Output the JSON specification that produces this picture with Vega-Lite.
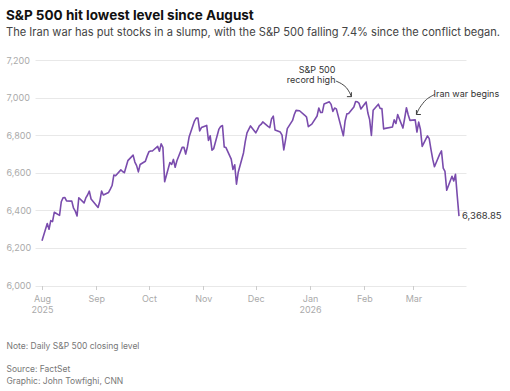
{
  "$schema": "https://vega.github.io/schema/vega-lite/v6.json",
  "autosize": {"type": "none"},
  "padding": {"left": 35, "top": 60, "right": 44, "bottom": 105},
  "width": 431,
  "height": 225.5,
  "config": {"view": {"stroke": null}, "font": "Inter"},
  "title": {
    "text": "S&P 500 hit lowest level since August",
    "subtitle": "The Iran war has put stocks in a slump, with the S&P 500 falling 7.4% since the conflict began.",
    "anchor": "start",
    "frame": "bounds",
    "font": "Inter",
    "fontSize": 13.5,
    "fontWeight": "bold",
    "color": "#111111",
    "subtitleFont": "Inter",
    "subtitleFontSize": 11.1,
    "subtitleColor": "#444444",
    "subtitlePadding": 4,
    "offset": 18
  },
  "datasets": {
    "sp": [
      {"d":"2025-08-01","v":6238.01},{"d":"2025-08-04","v":6329.94},{"d":"2025-08-05","v":6299.19},{"d":"2025-08-06","v":6345.06},{"d":"2025-08-07","v":6340.00},
      {"d":"2025-08-08","v":6389.45},{"d":"2025-08-11","v":6373.45},{"d":"2025-08-12","v":6445.76},{"d":"2025-08-13","v":6466.58},{"d":"2025-08-14","v":6468.54},
      {"d":"2025-08-15","v":6449.80},{"d":"2025-08-18","v":6449.15},{"d":"2025-08-19","v":6411.37},{"d":"2025-08-20","v":6395.78},{"d":"2025-08-21","v":6370.17},
      {"d":"2025-08-22","v":6466.91},{"d":"2025-08-25","v":6439.32},{"d":"2025-08-26","v":6465.94},{"d":"2025-08-27","v":6481.40},{"d":"2025-08-28","v":6501.86},
      {"d":"2025-08-29","v":6460.26},{"d":"2025-09-02","v":6415.54},{"d":"2025-09-03","v":6448.26},{"d":"2025-09-04","v":6502.08},{"d":"2025-09-05","v":6481.50},
      {"d":"2025-09-08","v":6495.15},{"d":"2025-09-09","v":6512.61},{"d":"2025-09-10","v":6532.04},{"d":"2025-09-11","v":6587.47},{"d":"2025-09-12","v":6584.29},
      {"d":"2025-09-15","v":6615.28},{"d":"2025-09-16","v":6606.76},{"d":"2025-09-17","v":6600.35},{"d":"2025-09-18","v":6631.96},{"d":"2025-09-19","v":6664.36},
      {"d":"2025-09-22","v":6693.75},{"d":"2025-09-23","v":6656.92},{"d":"2025-09-24","v":6637.97},{"d":"2025-09-25","v":6604.72},{"d":"2025-09-26","v":6643.70},
      {"d":"2025-09-29","v":6661.21},{"d":"2025-09-30","v":6688.46},{"d":"2025-10-01","v":6711.20},{"d":"2025-10-02","v":6715.35},{"d":"2025-10-03","v":6715.79},
      {"d":"2025-10-06","v":6740.28},{"d":"2025-10-07","v":6714.59},{"d":"2025-10-08","v":6753.72},{"d":"2025-10-09","v":6735.11},{"d":"2025-10-10","v":6552.51},
      {"d":"2025-10-13","v":6654.72},{"d":"2025-10-14","v":6644.31},{"d":"2025-10-15","v":6671.06},{"d":"2025-10-16","v":6629.07},{"d":"2025-10-17","v":6664.01},
      {"d":"2025-10-20","v":6735.13},{"d":"2025-10-21","v":6735.35},{"d":"2025-10-22","v":6699.40},{"d":"2025-10-23","v":6738.44},{"d":"2025-10-24","v":6791.69},
      {"d":"2025-10-27","v":6875.16},{"d":"2025-10-28","v":6890.89},{"d":"2025-10-29","v":6890.59},{"d":"2025-10-30","v":6822.34},{"d":"2025-10-31","v":6840.20},
      {"d":"2025-11-03","v":6851.97},{"d":"2025-11-04","v":6771.55},{"d":"2025-11-05","v":6796.29},{"d":"2025-11-06","v":6720.32},{"d":"2025-11-07","v":6728.80},
      {"d":"2025-11-10","v":6832.43},{"d":"2025-11-11","v":6846.61},{"d":"2025-11-12","v":6850.92},{"d":"2025-11-13","v":6737.49},{"d":"2025-11-14","v":6734.11},
      {"d":"2025-11-17","v":6672.41},{"d":"2025-11-18","v":6617.32},{"d":"2025-11-19","v":6642.16},{"d":"2025-11-20","v":6538.76},{"d":"2025-11-21","v":6602.99},
      {"d":"2025-11-24","v":6705.12},{"d":"2025-11-25","v":6765.88},{"d":"2025-11-26","v":6812.61},{"d":"2025-11-28","v":6849.09},{"d":"2025-12-01","v":6812.63},
      {"d":"2025-12-02","v":6829.37},{"d":"2025-12-03","v":6849.72},{"d":"2025-12-04","v":6857.12},{"d":"2025-12-05","v":6870.40},{"d":"2025-12-08","v":6846.51},
      {"d":"2025-12-09","v":6840.51},{"d":"2025-12-10","v":6886.68},{"d":"2025-12-11","v":6901.00},{"d":"2025-12-12","v":6827.41},{"d":"2025-12-15","v":6816.51},
      {"d":"2025-12-16","v":6800.26},{"d":"2025-12-17","v":6721.43},{"d":"2025-12-18","v":6774.76},{"d":"2025-12-19","v":6834.50},{"d":"2025-12-22","v":6878.49},
      {"d":"2025-12-23","v":6909.79},{"d":"2025-12-24","v":6932.05},{"d":"2025-12-26","v":6929.94},{"d":"2025-12-29","v":6905.74},{"d":"2025-12-30","v":6896.24},
      {"d":"2025-12-31","v":6845.50},{"d":"2026-01-02","v":6858.47},{"d":"2026-01-05","v":6902.05},{"d":"2026-01-06","v":6944.82},{"d":"2026-01-07","v":6920.93},
      {"d":"2026-01-08","v":6921.46},{"d":"2026-01-09","v":6966.28},{"d":"2026-01-12","v":6977.27},{"d":"2026-01-13","v":6963.74},{"d":"2026-01-14","v":6926.60},
      {"d":"2026-01-15","v":6944.47},{"d":"2026-01-16","v":6940.01},{"d":"2026-01-20","v":6796.86},{"d":"2026-01-21","v":6875.62},{"d":"2026-01-22","v":6913.35},
      {"d":"2026-01-23","v":6915.61},{"d":"2026-01-26","v":6950.23},{"d":"2026-01-27","v":6978.60},{"d":"2026-01-28","v":6978.03},{"d":"2026-01-29","v":6969.01},
      {"d":"2026-01-30","v":6939.03},{"d":"2026-02-02","v":6976.44},{"d":"2026-02-03","v":6917.81},{"d":"2026-02-04","v":6882.72},{"d":"2026-02-05","v":6798.40},
      {"d":"2026-02-06","v":6932.30},{"d":"2026-02-09","v":6964.82},{"d":"2026-02-10","v":6941.81},{"d":"2026-02-11","v":6941.47},{"d":"2026-02-12","v":6832.76},
      {"d":"2026-02-13","v":6836.17},{"d":"2026-02-17","v":6843.22},{"d":"2026-02-18","v":6881.31},{"d":"2026-02-19","v":6861.89},{"d":"2026-02-20","v":6909.51},
      {"d":"2026-02-23","v":6837.75},{"d":"2026-02-24","v":6890.07},{"d":"2026-02-25","v":6946.13},{"d":"2026-02-26","v":6908.86},{"d":"2026-02-27","v":6878.88},
      {"d":"2026-03-02","v":6881.6},{"d":"2026-03-03","v":6816.6},{"d":"2026-03-04","v":6869.5},{"d":"2026-03-05","v":6830.2},{"d":"2026-03-06","v":6740.0},
      {"d":"2026-03-09","v":6795.9},{"d":"2026-03-10","v":6781.5},{"d":"2026-03-11","v":6725.0},{"d":"2026-03-12","v":6672.4},{"d":"2026-03-13","v":6632.2},
      {"d":"2026-03-16","v":6699.4},{"d":"2026-03-17","v":6716.1},{"d":"2026-03-18","v":6624.6},{"d":"2026-03-19","v":6606.7},{"d":"2026-03-20","v":6506.5},
      {"d":"2026-03-23","v":6581.0},{"d":"2026-03-24","v":6556.4},{"d":"2026-03-25","v":6591.6},{"d":"2026-03-26","v":6477.0},{"d":"2026-03-27","v":6368.85}
    ],
    "ann": [
      {"g":"rec","d":"2026-01-15T12:00:00Z","v":7147,"t":"S&P 500"},
      {"g":"rec","d":"2026-01-15T12:00:00Z","v":7093,"t":"record high"},
      {"g":"iran","d":"2026-03-12T12:00:00Z","v":7017,"t":"Iran war begins"}
    ],
    "arr": [
      {"g":"rec","o":1,"d":"2026-01-15T18:00:00Z","v":7088},
      {"g":"rec","o":2,"d":"2026-01-18T21:00:00Z","v":7074},
      {"g":"rec","o":3,"d":"2026-01-21T17:00:00Z","v":7053},
      {"g":"rec","o":4,"d":"2026-01-23T14:00:00Z","v":7026},
      {"g":"rec","o":5,"d":"2026-01-24T14:00:00Z","v":7005},
      {"g":"iran","o":1,"d":"2026-03-13T05:00:00Z","v":7017},
      {"g":"iran","o":2,"d":"2026-03-08T10:00:00Z","v":6990},
      {"g":"iran","o":3,"d":"2026-03-04T14:00:00Z","v":6946},
      {"g":"iran","o":4,"d":"2026-03-02T17:00:00Z","v":6910}
    ]
  },
  "encoding": {
    "x": {
      "field": "d",
      "type": "temporal",
      "scale": {
        "type": "utc",
        "domain": [
          {"year": 2025, "month": 7, "date": 28, "utc": true},
          {"year": 2026, "month": 3, "date": 31, "utc": true}
        ]
      },
      "axis": {
        "values": [
          {"year": 2025, "month": 8, "date": 1, "utc": true},
          {"year": 2025, "month": 9, "date": 1, "utc": true},
          {"year": 2025, "month": 10, "date": 1, "utc": true},
          {"year": 2025, "month": 11, "date": 1, "utc": true},
          {"year": 2025, "month": 12, "date": 1, "utc": true},
          {"year": 2026, "month": 1, "date": 1, "utc": true},
          {"year": 2026, "month": 2, "date": 1, "utc": true},
          {"year": 2026, "month": 3, "date": 1, "utc": true}
        ],
        "labelExpr": "utcmonth(datum.value) == 0 || utcmonth(datum.value) == 7 ? [utcFormat(datum.value, '%b'), utcFormat(datum.value, '%Y')] : utcFormat(datum.value, '%b')",
        "grid": false,
        "domain": false,
        "ticks": true,
        "tickSize": 4,
        "tickColor": "#cccccc",
        "labelPadding": 5,
        "labelFont": "Inter",
        "labelFontSize": 9,
        "labelColor": "#aaaaaa",
        "labelLineHeight": 11,
        "labelBaseline": "top",
        "title": ["Note: Daily S&P 500 closing level", "\u2800", "Source: FactSet", "Graphic: John Towfighi, CNN"],
        "titleFont": "Inter",
        "titleFontSize": 8.5,
        "titleFontWeight": "normal",
        "titleColor": "#777777",
        "titleAnchor": "start",
        "titleAlign": "left",
        "titleBaseline": "alphabetic",
        "titleLineHeight": 11.7,
        "titleX": -29,
        "titleY": 62.8
      }
    },
    "y": {
      "field": "v",
      "type": "quantitative",
      "scale": {"domain": [6000, 7200], "nice": false, "zero": false},
      "axis": {
        "values": [6000, 6200, 6400, 6600, 6800, 7000, 7200],
        "format": ",.0f",
        "grid": true,
        "gridColor": "#e8e8e8",
        "domain": false,
        "ticks": false,
        "labelAlign": "left",
        "labelPadding": 29,
        "labelFont": "Inter",
        "labelFontSize": 9,
        "labelColor": "#aaaaaa",
        "title": null
      }
    }
  },
  "layer": [
    {
      "data": {"name": "sp"},
      "mark": {"type": "line", "color": "#7a4cad", "strokeWidth": 1.6, "strokeJoin": "round"}
    },
    {
      "data": {"name": "sp"},
      "transform": [{"filter": "datum.v == 6368.85"}],
      "mark": {"type": "text", "align": "left", "baseline": "middle", "dx": 3, "fontSize": 9.5, "color": "#333333", "font": "Inter"},
      "encoding": {"text": {"field": "v", "type": "quantitative", "format": ",.2f"}}
    },
    {
      "data": {"name": "ann"},
      "transform": [{"filter": "datum.g == 'rec'"}],
      "mark": {"type": "text", "align": "right", "baseline": "middle", "fontSize": 9, "color": "#333333", "font": "Inter"},
      "encoding": {"text": {"field": "t"}}
    },
    {
      "data": {"name": "ann"},
      "transform": [{"filter": "datum.g == 'iran'"}],
      "mark": {"type": "text", "align": "left", "baseline": "middle", "fontSize": 9, "color": "#333333", "font": "Inter"},
      "encoding": {"text": {"field": "t"}}
    },
    {
      "data": {"name": "arr"},
      "mark": {"type": "line", "color": "#333333", "strokeWidth": 0.9, "interpolate": "cardinal"},
      "encoding": {"detail": {"field": "g"}, "order": {"field": "o"}}
    },
    {
      "data": {"name": "arr"},
      "transform": [{"filter": "datum.g == 'rec' && datum.o == 5"}],
      "mark": {"type": "point", "shape": "M-1,-1L0,0L1,-1", "filled": false, "stroke": "#333333", "strokeWidth": 0.9, "size": 40, "angle": 315, "opacity": 1}
    },
    {
      "data": {"name": "arr"},
      "transform": [{"filter": "datum.g == 'iran' && datum.o == 4"}],
      "mark": {"type": "point", "shape": "M-1,-1L0,0L1,-1", "filled": false, "stroke": "#333333", "strokeWidth": 0.9, "size": 40, "angle": 45, "opacity": 1}
    }
  ]
}
